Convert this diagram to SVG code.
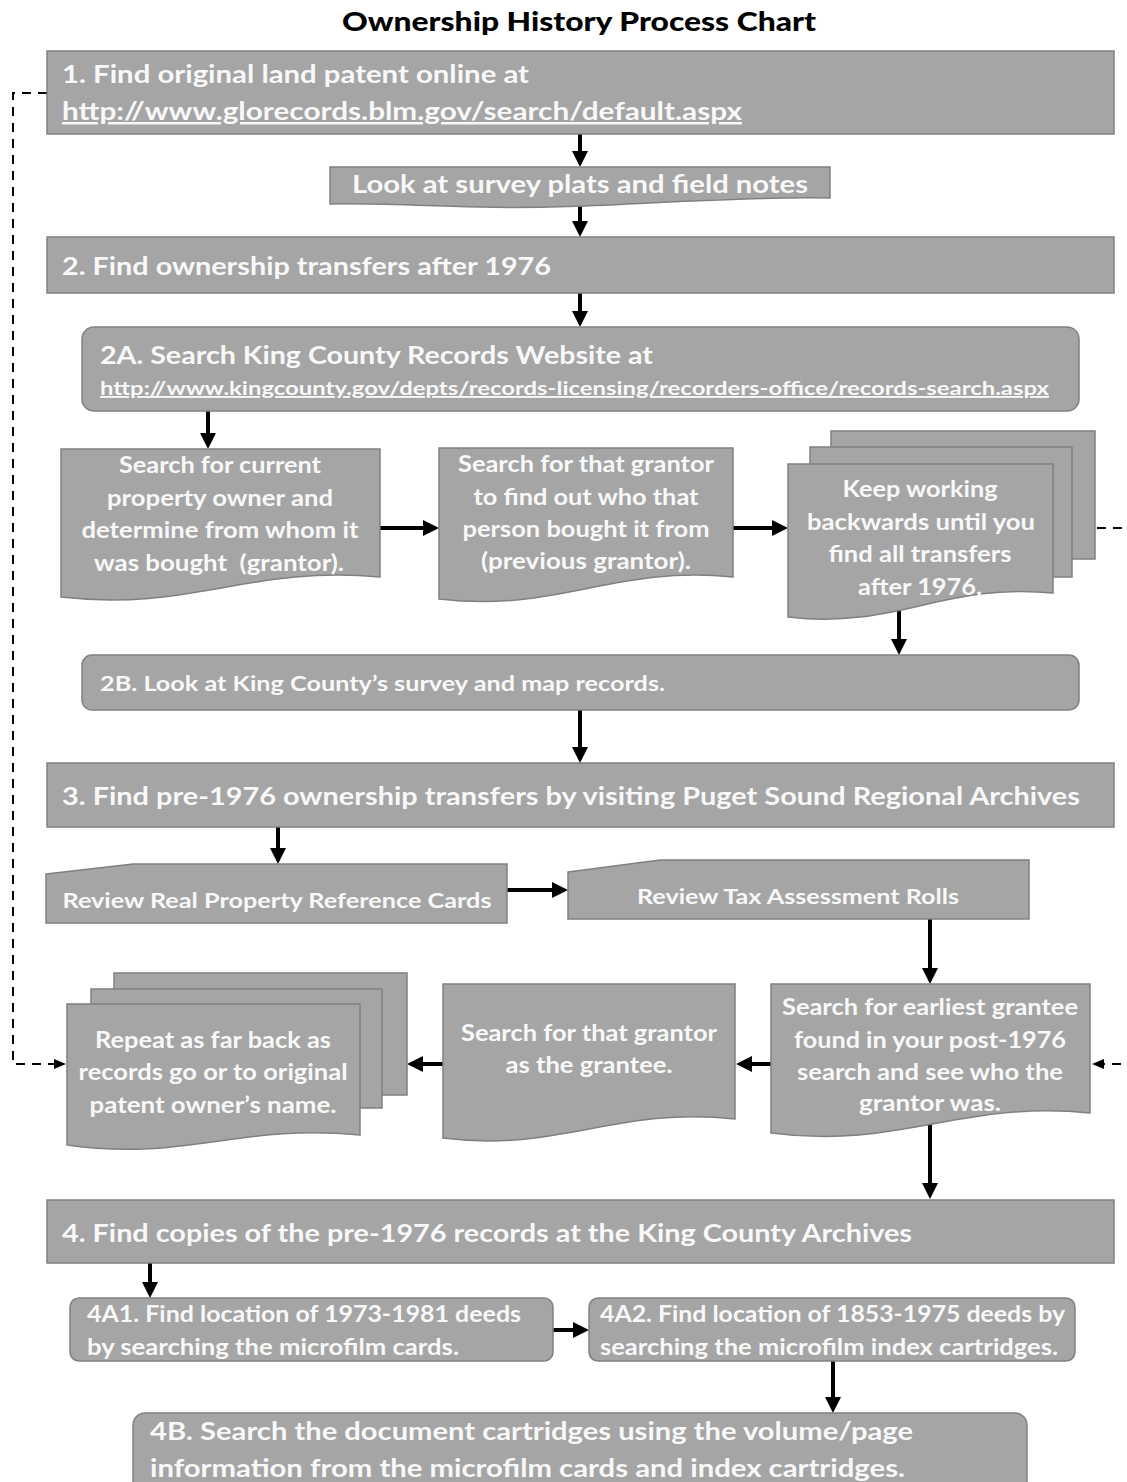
<svg xmlns="http://www.w3.org/2000/svg" width="1127" height="1482" viewBox="0 0 1127 1482">
<style>
.box{fill:#a5a5a5;stroke:#808080;stroke-width:1.5}
.t{font-family:Lato,"Open Sans","Liberation Sans",sans-serif;font-weight:bold;fill:#f8f8f8}
.title{font-family:Lato,"Open Sans","Liberation Sans",sans-serif;font-weight:900;fill:#000}
.c{text-anchor:middle}
.u{text-decoration:underline}
.conn{stroke:#000;stroke-width:4;fill:none}
.dash{stroke:#000;stroke-width:2;fill:none;stroke-dasharray:9,7}
</style>
<defs>
<marker id="ah" markerUnits="userSpaceOnUse" markerWidth="16" markerHeight="16" refX="8" refY="8" orient="auto"><path d="M0,0 L16,8 L0,16 Z" fill="#000"/></marker>
<marker id="ahs" markerUnits="userSpaceOnUse" markerWidth="12" markerHeight="10" refX="6" refY="5" orient="auto"><path d="M0,0 L12,5 L0,10 Z" fill="#000"/></marker>
</defs>
<rect width="1127" height="1482" fill="#fff"/>
<text class="title c" x="579" y="31" font-size="26" textLength="474" lengthAdjust="spacingAndGlyphs">Ownership History Process Chart</text>

<g id="connectors">
<line class="conn" x1="580" y1="134" x2="580" y2="159" marker-end="url(#ah)"/>
<line class="conn" x1="580" y1="203" x2="580" y2="229" marker-end="url(#ah)"/>
<line class="conn" x1="580" y1="293" x2="580" y2="319" marker-end="url(#ah)"/>
<line class="conn" x1="208" y1="411" x2="208" y2="441" marker-end="url(#ah)"/>
<line class="conn" x1="380" y1="528" x2="431" y2="528" marker-end="url(#ah)"/>
<line class="conn" x1="733" y1="528" x2="780" y2="528" marker-end="url(#ah)"/>
<line class="conn" x1="899" y1="605" x2="899" y2="647" marker-end="url(#ah)"/>
<line class="conn" x1="580" y1="710" x2="580" y2="755" marker-end="url(#ah)"/>
<line class="conn" x1="278" y1="827" x2="278" y2="856" marker-end="url(#ah)"/>
<line class="conn" x1="507" y1="890" x2="560" y2="890" marker-end="url(#ah)"/>
<line class="conn" x1="930" y1="919" x2="930" y2="976" marker-end="url(#ah)"/>
<line class="conn" x1="771" y1="1064" x2="744" y2="1064" marker-end="url(#ah)"/>
<line class="conn" x1="443" y1="1064" x2="415" y2="1064" marker-end="url(#ah)"/>
<line class="conn" x1="930" y1="1122" x2="930" y2="1191" marker-end="url(#ah)"/>
<line class="conn" x1="150" y1="1263" x2="150" y2="1290" marker-end="url(#ah)"/>
<line class="conn" x1="553" y1="1330" x2="581" y2="1330" marker-end="url(#ah)"/>
<line class="conn" x1="833" y1="1361" x2="833" y2="1405" marker-end="url(#ah)"/>
<path class="dash" d="M47,93 H13 V1064 H60" marker-end="url(#ahs)"/>
<path class="dash" d="M1097,528 H1145 V1064 H1098" marker-end="url(#ahs)"/>
</g>

<g id="n1">
<rect class="box" x="47" y="51" width="1067" height="83"/>
<text class="t" x="62" y="83" font-size="25" textLength="467" lengthAdjust="spacingAndGlyphs">1. Find original land patent online at</text>
<text class="t u" x="62" y="120" font-size="25" textLength="680" lengthAdjust="spacingAndGlyphs">http://www.glorecords.blm.gov/search/default.aspx</text>
</g>

<g id="n_survey">
<path class="box" d="M330,167 H830 V198 C700,196 600,210 480,207 C400,205 360,203 330,204 Z"/>
<text class="t c" x="580" y="193" font-size="25" textLength="456" lengthAdjust="spacingAndGlyphs">Look at survey plats and field notes</text>
</g>

<g id="n2">
<rect class="box" x="47" y="237" width="1067" height="56"/>
<text class="t" x="62" y="275" font-size="25" textLength="489" lengthAdjust="spacingAndGlyphs">2. Find ownership transfers after 1976</text>
</g>

<g id="n2a">
<rect class="box" x="82" y="327" width="997" height="84" rx="12"/>
<text class="t" x="100" y="364" font-size="25" textLength="553" lengthAdjust="spacingAndGlyphs">2A. Search King County Records Website at</text>
<text class="t u" x="100" y="395" font-size="19" textLength="949" lengthAdjust="spacingAndGlyphs">http://www.kingcounty.gov/depts/records-licensing/recorders-office/records-search.aspx</text>
</g>

<g id="n_doc1">
<path class="box" d="M61,449 H380 V577 C250,565 190,612 61,597 Z"/>
<text class="t c" x="220" y="473" font-size="22" textLength="202" lengthAdjust="spacingAndGlyphs">Search for current</text>
<text class="t c" x="220" y="506" font-size="22" textLength="226" lengthAdjust="spacingAndGlyphs">property owner and</text>
<text class="t c" x="220" y="538" font-size="22" textLength="277" lengthAdjust="spacingAndGlyphs">determine from whom it</text>
<text class="t c" x="219" y="571" font-size="22" textLength="250" lengthAdjust="spacingAndGlyphs" xml:space="preserve">was bought  (grantor).</text>
</g>

<g id="n_doc2">
<path class="box" d="M439,448 H733 V577 C613,565 558,613 439,599 Z"/>
<text class="t c" x="586" y="472" font-size="22" textLength="256" lengthAdjust="spacingAndGlyphs">Search for that grantor</text>
<text class="t c" x="586" y="505" font-size="22" textLength="225" lengthAdjust="spacingAndGlyphs">to find out who that</text>
<text class="t c" x="586" y="537" font-size="22" textLength="247" lengthAdjust="spacingAndGlyphs">person bought it from</text>
<text class="t c" x="586" y="569" font-size="22" textLength="210" lengthAdjust="spacingAndGlyphs">(previous grantor).</text>
</g>

<g id="n_keep">
<rect class="box" x="831" y="431" width="264" height="128"/>
<rect class="box" x="810" y="447" width="262" height="130"/>
<path class="box" d="M788,464 H1053 V593 C945,582 895,630 788,617 Z"/>
<text class="t c" x="920" y="497" font-size="22" textLength="155" lengthAdjust="spacingAndGlyphs">Keep working</text>
<text class="t c" x="921" y="530" font-size="22" textLength="228" lengthAdjust="spacingAndGlyphs">backwards until you</text>
<text class="t c" x="920" y="562" font-size="22" textLength="183" lengthAdjust="spacingAndGlyphs">find all transfers</text>
<text class="t c" x="920" y="595" font-size="22" textLength="124" lengthAdjust="spacingAndGlyphs">after 1976.</text>
</g>

<g id="n2b">
<rect class="box" x="82" y="655" width="997" height="55" rx="10"/>
<text class="t" x="100" y="691" font-size="21" textLength="565" lengthAdjust="spacingAndGlyphs">2B. Look at King County’s survey and map records.</text>
</g>

<g id="n3">
<rect class="box" x="47" y="763" width="1067" height="64"/>
<text class="t" x="62" y="805" font-size="25" textLength="1018" lengthAdjust="spacingAndGlyphs">3. Find pre-1976 ownership transfers by visiting Puget Sound Regional Archives</text>
</g>

<g id="n_cards">
<path class="box" d="M46,874 L133,864 H507 V923 H46 Z"/>
<text class="t c" x="277" y="908" font-size="21" textLength="429" lengthAdjust="spacingAndGlyphs">Review Real Property Reference Cards</text>
</g>

<g id="n_tax">
<path class="box" d="M568,872 L660,860 H1029 V919 H568 Z"/>
<text class="t c" x="798" y="904" font-size="21" textLength="322" lengthAdjust="spacingAndGlyphs">Review Tax Assessment Rolls</text>
</g>

<g id="n_earliest">
<path class="box" d="M771,984 H1090 V1113 C960,1100 900,1150 771,1133 Z"/>
<text class="t c" x="930" y="1015" font-size="22" textLength="296" lengthAdjust="spacingAndGlyphs">Search for earliest grantee</text>
<text class="t c" x="930" y="1048" font-size="22" textLength="272" lengthAdjust="spacingAndGlyphs">found in your post-1976</text>
<text class="t c" x="930" y="1080" font-size="22" textLength="266" lengthAdjust="spacingAndGlyphs">search and see who the</text>
<text class="t c" x="930" y="1111" font-size="22" textLength="142" lengthAdjust="spacingAndGlyphs">grantor was.</text>
</g>

<g id="n_grantee">
<path class="box" d="M443,984 H735 V1119 C615,1106 560,1153 443,1138 Z"/>
<text class="t c" x="589" y="1041" font-size="22" textLength="256" lengthAdjust="spacingAndGlyphs">Search for that grantor</text>
<text class="t c" x="589" y="1073" font-size="22" textLength="167" lengthAdjust="spacingAndGlyphs">as the grantee.</text>
</g>

<g id="n_repeat">
<rect class="box" x="114" y="973" width="293" height="122"/>
<rect class="box" x="91" y="989" width="291" height="119"/>
<path class="box" d="M67,1004 H360 V1135 C240,1123 185,1162 67,1145 Z"/>
<text class="t c" x="213" y="1048" font-size="22" textLength="236" lengthAdjust="spacingAndGlyphs">Repeat as far back as</text>
<text class="t c" x="213" y="1080" font-size="22" textLength="269" lengthAdjust="spacingAndGlyphs">records go or to original</text>
<text class="t c" x="213" y="1113" font-size="22" textLength="247" lengthAdjust="spacingAndGlyphs">patent owner’s name.</text>
</g>

<g id="n4">
<rect class="box" x="47" y="1200" width="1067" height="63"/>
<text class="t" x="62" y="1242" font-size="25" textLength="850" lengthAdjust="spacingAndGlyphs">4. Find copies of the pre-1976 records at the King County Archives</text>
</g>

<g id="n4a1">
<rect class="box" x="70" y="1298" width="483" height="63" rx="9"/>
<text class="t" x="87" y="1322" font-size="23" textLength="434" lengthAdjust="spacingAndGlyphs">4A1. Find location of 1973-1981 deeds</text>
<text class="t" x="87" y="1355" font-size="23" textLength="372" lengthAdjust="spacingAndGlyphs">by searching the microfilm cards.</text>
</g>

<g id="n4a2">
<rect class="box" x="589" y="1298" width="486" height="63" rx="9"/>
<text class="t" x="600" y="1322" font-size="23" textLength="465" lengthAdjust="spacingAndGlyphs">4A2. Find location of 1853-1975 deeds by</text>
<text class="t" x="600" y="1355" font-size="23" textLength="458" lengthAdjust="spacingAndGlyphs">searching the microfilm index cartridges.</text>
</g>

<g id="n4b">
<rect class="box" x="133" y="1413" width="894" height="90" rx="12"/>
<text class="t" x="150" y="1440" font-size="25" textLength="763" lengthAdjust="spacingAndGlyphs">4B. Search the document cartridges using the volume/page</text>
<text class="t" x="150" y="1477" font-size="25" textLength="755" lengthAdjust="spacingAndGlyphs">information from the microfilm cards and index cartridges.</text>
</g>
</svg>
